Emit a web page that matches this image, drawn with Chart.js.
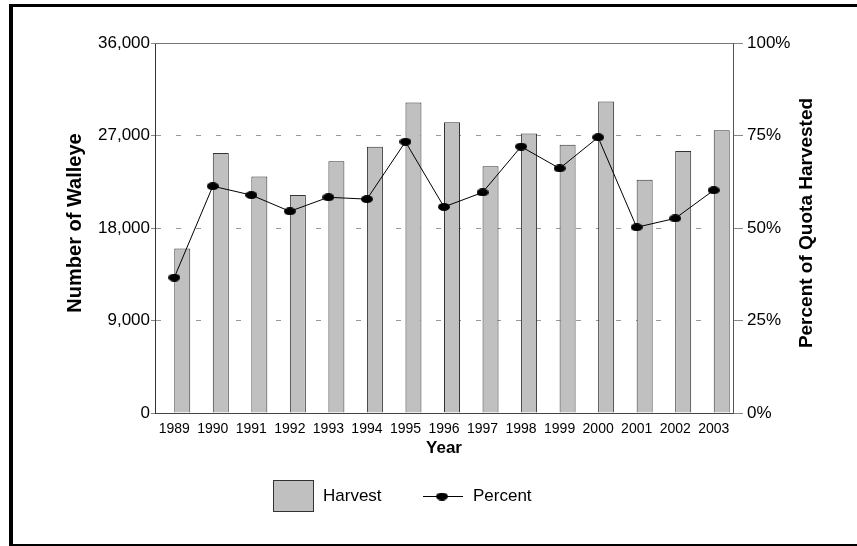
<!DOCTYPE html>
<html>
<head>
<meta charset="utf-8">
<script src="https://cdn.jsdelivr.net/npm/chart.js@4.4.1/dist/chart.umd.min.js"></script>
<style>
  html, body { margin: 0; padding: 0; background: #fff; overflow: hidden; }
  #frame { position: absolute; left: 9px; top: 4px; width: 900px; height: 537px;
           border-left: 4px solid #000; border-top: 3px solid #000; border-bottom: 2px solid #000; }
  #wrap { position: absolute; left: 0; top: 0; width: 857px; height: 546px; }
</style>
</head>
<body>
<div id="frame"></div>
<div id="wrap"><canvas id="walleyeChart"></canvas></div>
<script>
const years = ['1989', '1990', '1991', '1992', '1993', '1994', '1995', '1996',
               '1997', '1998', '1999', '2000', '2001', '2002', '2003'];
const harvest = [16000, 25300, 23000, 21200, 24500, 25900, 30200, 28300,
                 24000, 27200, 26100, 30300, 22700, 25500, 27500];
const percentHarvested = [36.6, 61.3, 58.9, 54.5, 58.3, 57.8, 73.3, 55.7,
                          59.6, 72.0, 66.1, 74.5, 50.2, 52.6, 60.2];
const countTicks = [0, 9000, 18000, 27000, 36000];
const percentTicks = [0, 25, 50, 75, 100];

Chart.defaults.font.family = "'Liberation Sans', Arial, sans-serif";
Chart.defaults.color = '#000';

// black oval marker, wider than tall like the original
const dot = document.createElement('canvas');
dot.width = 12;
dot.height = 8;
const dctx = dot.getContext('2d');
dctx.fillStyle = '#000';
dctx.beginPath();
dctx.ellipse(6, 4, 6, 4, 0, 0, Math.PI * 2);
dctx.fill();

const frameAndTitles = {
    id: 'frameAndTitles',
    beforeDatasetsDraw(chart) {
        const { ctx, chartArea: a } = chart;
        ctx.save();
        ctx.strokeStyle = '#777';
        ctx.lineWidth = 1;
        ctx.beginPath();
        ctx.moveTo(a.left, Math.round(a.top) + 0.5);
        ctx.lineTo(a.right, Math.round(a.top) + 0.5);
        ctx.stroke();
        ctx.restore();
    },
    afterDraw(chart) {
        const { ctx, chartArea: a } = chart;
        const midY = 223;
        ctx.save();
        ctx.fillStyle = '#000';
        ctx.textAlign = 'center';
        ctx.textBaseline = 'middle';

        ctx.font = "bold 20px 'Liberation Sans', Arial, sans-serif";
        ctx.save();
        ctx.translate(75, midY);
        ctx.rotate(-Math.PI / 2);
        ctx.fillText('Number of Walleye', 0, 0);
        ctx.restore();

        ctx.font = "bold 19px 'Liberation Sans', Arial, sans-serif";
        ctx.save();
        ctx.translate(807, midY);
        ctx.rotate(-Math.PI / 2);
        ctx.fillText('Percent of Quota Harvested', 0, 0);
        ctx.restore();

        ctx.font = "bold 17px 'Liberation Sans', Arial, sans-serif";
        ctx.fillText('Year', (a.left + a.right) / 2, 448);

        // legend
        const bar = chart.data.datasets[2];
        const line = chart.data.datasets[0];
        const ly = 496;
        ctx.fillStyle = bar.backgroundColor;
        ctx.strokeStyle = bar.borderColor;
        ctx.lineWidth = 1;
        ctx.fillRect(273.5, 480.5, 40, 31);
        ctx.strokeRect(273.5, 480.5, 40, 31);

        ctx.strokeStyle = line.borderColor;
        ctx.beginPath();
        ctx.moveTo(423, ly + 0.5);
        ctx.lineTo(463, ly + 0.5);
        ctx.stroke();
        ctx.drawImage(dot, 442 - dot.width / 2, ly + 0.5 - dot.height / 2);

        ctx.fillStyle = '#000';
        ctx.textAlign = 'left';
        ctx.font = "17px 'Liberation Sans', Arial, sans-serif";
        ctx.fillText(bar.label, 323, ly);
        ctx.fillText(line.label, 473, ly);
        ctx.restore();
    }
};

new Chart(document.getElementById('walleyeChart'), {
    data: {
        labels: years,
        datasets: [
            {
                type: 'line',
                label: 'Percent',
                data: percentHarvested,
                yAxisID: 'y2',
                borderColor: '#000',
                borderWidth: 1,
                pointStyle: dot,
                pointRadius: 6,
                order: 0
            },
            {
                // empty slot so each bar sits just right of its year
                type: 'bar',
                label: '',
                data: [],
                yAxisID: 'y',
                order: 1
            },
            {
                type: 'bar',
                label: 'Harvest',
                data: harvest,
                yAxisID: 'y',
                backgroundColor: '#c0c0c0',
                borderColor: '#333',
                borderWidth: 1,
                order: 2
            }
        ]
    },
    options: {
        responsive: true,
        maintainAspectRatio: false,
        animation: false,
        layout: { padding: { top: 43, left: 0, right: 0, bottom: 0 } },
        datasets: {
            bar: { categoryPercentage: 0.83, barPercentage: 1.0 }
        },
        plugins: {
            legend: { display: false },
            tooltip: { enabled: false }
        },
        scales: {
            x: {
                grid: { display: false, drawTicks: false },
                border: { color: '#444' },
                ticks: { font: { size: 14 }, padding: 8, maxRotation: 0, autoSkip: false },
                afterFit: s => { s.height = 133; s.paddingLeft = 0; s.paddingRight = 0; }
            },
            y: {
                position: 'left',
                min: 0,
                max: 36000,
                afterBuildTicks: s => { s.ticks = countTicks.map(v => ({ value: v })); },
                ticks: {
                    font: { size: 17 },
                    padding: 1,
                    callback: v => v.toLocaleString('en-US')
                },
                grid: {
                    color: c => (c.tick && (c.tick.value === 0 || c.tick.value === 36000)) ? 'rgba(0,0,0,0)' : '#999',
                    tickColor: '#888',
                    tickLength: 4
                },
                border: { color: '#333', dash: [5, 15] },
                afterFit: s => { s.width = 155; s.paddingTop = 0; s.paddingBottom = 0; }
            },
            y2: {
                position: 'right',
                min: 0,
                max: 100,
                afterBuildTicks: s => { s.ticks = percentTicks.map(v => ({ value: v })); },
                ticks: {
                    font: { size: 17 },
                    padding: 4,
                    callback: v => v + '%'
                },
                grid: { drawOnChartArea: false, tickColor: '#888', tickLength: 10 },
                border: { color: '#555' },
                afterFit: s => { s.width = 124; s.paddingTop = 0; s.paddingBottom = 0; }
            }
        }
    },
    plugins: [frameAndTitles]
});
</script>
</body>
</html>
